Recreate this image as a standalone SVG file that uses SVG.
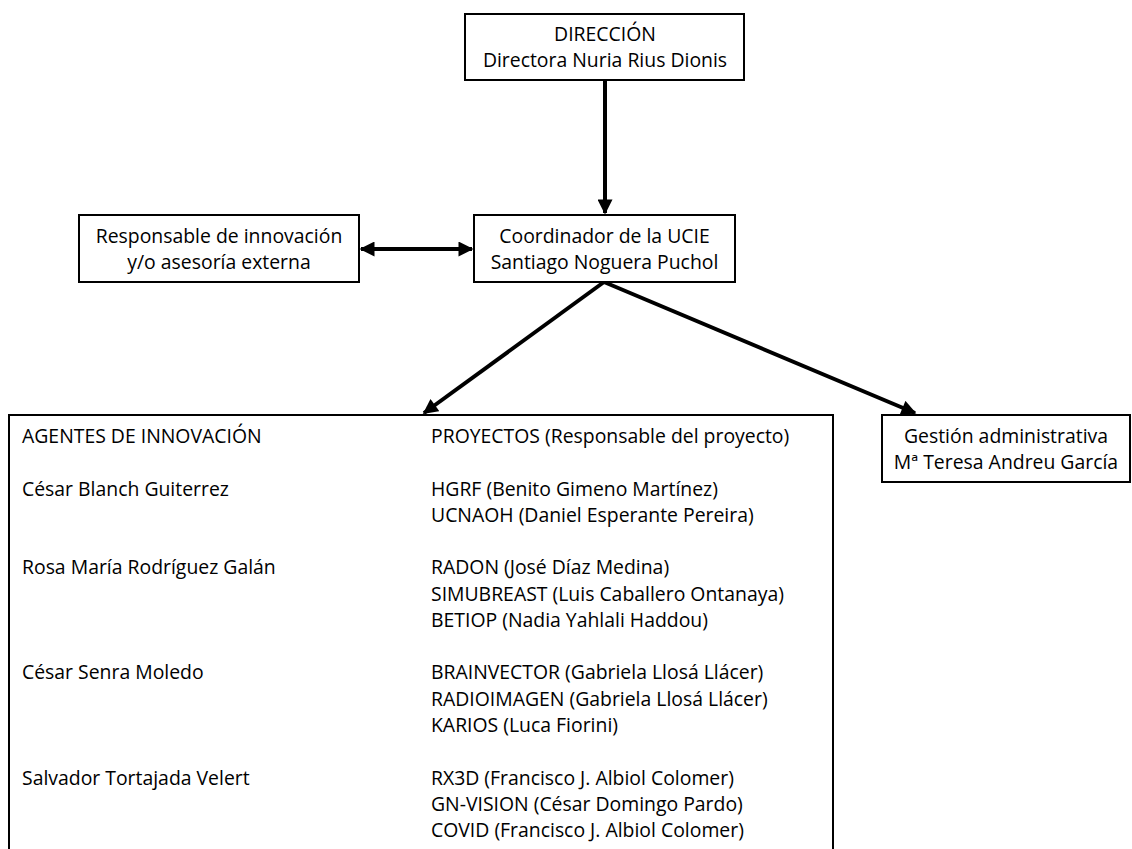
<svg xmlns="http://www.w3.org/2000/svg" width="1132" height="849" viewBox="0 0 1132 849">
<style>
.box{fill:#fff;stroke:#000;stroke-width:2}
.t{font-family:"Open Sans","Noto Sans","Liberation Sans",sans-serif;font-size:19.4px;fill:#000}
.c{text-anchor:middle}
.ln{stroke:#000;stroke-width:4;fill:none}
</style>
<defs>
<marker id="ah" viewBox="0 0 10 10" refX="9" refY="5" markerUnits="userSpaceOnUse" markerWidth="16" markerHeight="15" orient="auto-start-reverse">
<path d="M0,0 L10,5 L0,10 z" fill="#000"/>
</marker>
</defs>
<g id="connectors">
<line class="ln" x1="605" y1="80" x2="605" y2="213" marker-end="url(#ah)"/>
<line class="ln" x1="361" y1="249" x2="472" y2="249" marker-start="url(#ah)" marker-end="url(#ah)"/>
<line class="ln" x1="604" y1="282" x2="424" y2="413" marker-end="url(#ah)"/>
<line class="ln" x1="604" y1="282" x2="915" y2="413" marker-end="url(#ah)"/>
</g>
<g id="direccion">
<rect class="box" x="465" y="14" width="279" height="66"/>
<text class="t c" x="605" y="41">DIRECCIÓN</text>
<text class="t c" x="605" y="67">Directora Nuria Rius Dionis</text>
</g>
<g id="responsable">
<rect class="box" x="79" y="215" width="280" height="67"/>
<text class="t c" x="219" y="243">Responsable de innovación</text>
<text class="t c" x="219" y="269">y/o asesoría externa</text>
</g>
<g id="coordinador">
<rect class="box" x="474" y="215" width="261" height="67"/>
<text class="t c" x="604.5" y="243">Coordinador de la UCIE</text>
<text class="t c" x="604.5" y="269">Santiago Noguera Puchol</text>
</g>
<g id="gestion">
<rect class="box" x="882" y="415" width="248" height="67"/>
<text class="t c" x="1006" y="443">Gestión administrativa</text>
<text class="t c" x="1006" y="469">Mª Teresa Andreu García</text>
</g>
<g id="agentes">
<path class="box" d="M9,851 L9,415 L833,415 L833,851"/>
<text class="t" x="22" y="443">AGENTES DE INNOVACIÓN</text>
<text class="t" x="22" y="495.5">César Blanch Guiterrez</text>
<text class="t" x="22" y="574.3">Rosa María Rodríguez Galán</text>
<text class="t" x="22" y="679.4">César Senra Moledo</text>
<text class="t" x="22" y="784.5">Salvador Tortajada Velert</text>
<text class="t" x="431" y="443">PROYECTOS (Responsable del proyecto)</text>
<text class="t" x="431" y="495.5">HGRF (Benito Gimeno Martínez)</text>
<text class="t" x="431" y="521.8">UCNAOH (Daniel Esperante Pereira)</text>
<text class="t" x="431" y="574.3">RADON (José Díaz Medina)</text>
<text class="t" x="431" y="600.6">SIMUBREAST (Luis Caballero Ontanaya)</text>
<text class="t" x="431" y="626.9">BETIOP (Nadia Yahlali Haddou)</text>
<text class="t" x="431" y="679.4">BRAINVECTOR (Gabriela Llosá Llácer)</text>
<text class="t" x="431" y="705.7">RADIOIMAGEN (Gabriela Llosá Llácer)</text>
<text class="t" x="431" y="732">KARIOS (Luca Fiorini)</text>
<text class="t" x="431" y="784.5">RX3D (Francisco J. Albiol Colomer)</text>
<text class="t" x="431" y="810.8">GN-VISION (César Domingo Pardo)</text>
<text class="t" x="431" y="837">COVID (Francisco J. Albiol Colomer)</text>
</g>
</svg>
